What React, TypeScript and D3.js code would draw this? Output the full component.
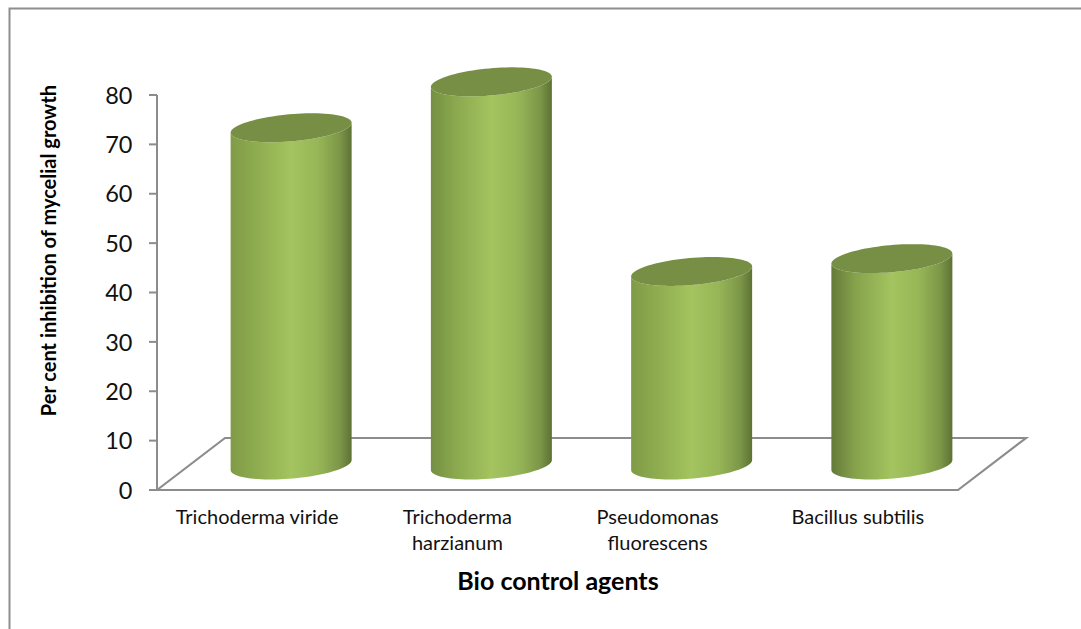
import React from "react";
import * as d3 from "d3";

const categories: string[][] = [
  ["Trichoderma viride"],
  ["Trichoderma", "harzianum"],
  ["Pseudomonas", "fluorescens"],
  ["Bacillus subtilis"],
];
const values = [68.3, 77.6, 39.2, 41.8];
const yTicks = [0, 10, 20, 30, 40, 50, 60, 70, 80];
const xTitle = "Bio control agents";
const yTitle = "Per cent inhibition of mycelial growth";

const W = 1081, H = 629;
const FONT = "Lato, 'Open Sans', sans-serif";
const GREY = "#8c8c8c";
const leftEdge = ["#7f9b47", "#748f42", "#7f9b47", "#647a39"];
const leftMid = ["#8dab4f", "#8aa84e", "#8dab4f", "#86a34c"];

const y = d3.scaleLinear().domain([0, 80]).range([490, 95]);
const x = d3.scaleBand<number>().domain(d3.range(categories.length)).range([157, 958]);

const depthX = 68, depthY = 52;
const rx = 60.5, shear = 5, ry = 13.6;
const barBaseShift = 25;
const centerShiftX = 34;

const ts = d3.range(0, 361, 4).map((d) => (d * Math.PI) / 180);

const ellipsePt = (cx: number, cy: number, t: number): [number, number] => [
  cx + rx * Math.cos(t),
  cy + ry * Math.sin(t) - shear * Math.cos(t),
];
const line = d3.line<[number, number]>().x((d) => d[0]).y((d) => d[1]);

const cylinderBody = (cx: number, top: number, base: number) => {
  const front = ts.filter((t) => t <= Math.PI + 1e-6);
  const lower = front.map((t) => ellipsePt(cx, base, t));
  const upper = front.slice().reverse().map((t) => ellipsePt(cx, top, t));
  return line([...lower, ...upper]) + "Z";
};
const cap = (cx: number, top: number) => line(ts.map((t) => ellipsePt(cx, top, t))) + "Z";

export default function App() {
  const floorTop = y(0) - depthY;
  return (
    <svg
      width={W}
      height={H}
      viewBox={`0 0 ${W} ${H}`}
      style={{ position: "absolute", left: 0, top: 0, background: "#fff" }}
      fontFamily={FONT}
    >
      <defs>
        {values.map((_, i) => (
          <linearGradient key={i} id={`body${i}`} x1="0" x2="1" y1="0" y2="0">
            <stop offset="0" stopColor={leftEdge[i]} />
            <stop offset="0.2" stopColor={leftMid[i]} />
            <stop offset="0.5" stopColor="#a3c45f" />
            <stop offset="0.72" stopColor="#97b657" />
            <stop offset="0.9" stopColor="#7c9748" />
            <stop offset="1" stopColor="#5d7235" />
          </linearGradient>
        ))}
      </defs>

      <path d={`M${W},8.5H9.5V${H}`} fill="none" stroke="#8e8e8e" strokeWidth={2} />

      {/* floor */}
      <path
        d={`M${157},${y(0)}L${157 + depthX},${floorTop}H${958 + depthX}L${958},${y(0)}Z`}
        fill="none"
        stroke={GREY}
        strokeWidth={2.2}
        strokeLinejoin="miter"
      />

      {/* y axis */}
      <line x1={157} x2={157} y1={y(80)} y2={y(0)} stroke={GREY} strokeWidth={2} />
      {yTicks.map((t) => (
        <g key={t}>
          <line x1={149} x2={157} y1={y(t)} y2={y(t)} stroke={GREY} strokeWidth={2} />
          <text x={132.5} y={y(t)} dy="0.37em" textAnchor="end" fontSize={23.5} fill="#111">
            {t}
          </text>
        </g>
      ))}

      {/* cylinders */}
      {values.map((v, i) => {
        const cx = (x(i) as number) + x.bandwidth() / 2 + centerShiftX;
        const base = y(0) - barBaseShift;
        const top = base - (y(0) - y(v));
        return (
          <g key={i}>
            <path d={cylinderBody(cx, top, base)} fill={`url(#body${i})`} />
            <path d={cap(cx, top)} fill="#778f45" />
          </g>
        );
      })}

      {/* category labels */}
      {categories.map((lines, i) => {
        const cx = (x(i) as number) + x.bandwidth() / 2;
        return (
          <text key={i} textAnchor="middle" fontSize={20} fill="#111">
            {lines.map((l, j) => (
              <tspan key={j} x={cx} y={524 + j * 26}>
                {l}
              </tspan>
            ))}
          </text>
        );
      })}

      <text x={558} y={589.5} textAnchor="middle" fontSize={25} fontWeight={700} fill="#000">
        {xTitle}
      </text>
      <text
        transform="translate(56,250.5) rotate(-90)"
        textAnchor="middle"
        fontSize={20}
        fontWeight={700}
        fill="#000"
      >
        {yTitle}
      </text>
    </svg>
  );
}
